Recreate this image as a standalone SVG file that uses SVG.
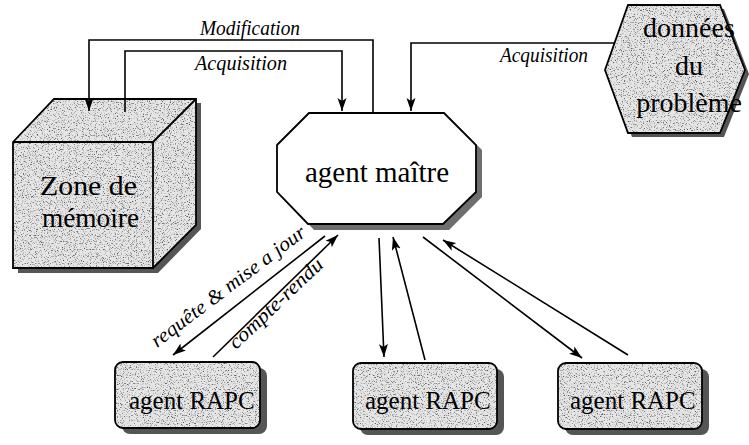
<svg xmlns="http://www.w3.org/2000/svg" width="749" height="445" viewBox="0 0 749 445">
<style>
.ln{fill:none;stroke:#000;stroke-width:1.6}
.ol{fill:none;stroke:#000;stroke-width:1.8;stroke-linejoin:miter}
.tex{fill:#e6e6e6}
.sh{fill:#555}
.lbl{font-style:italic;font-size:20px}
</style>
<defs>
<marker id="ah" markerUnits="userSpaceOnUse" markerWidth="14" markerHeight="10" refX="13" refY="5" orient="auto">
<path d="M0,0.5 L13,5 L0,9.5 L3,5 z" fill="#000"/>
</marker>
<filter id="grain" x="0" y="0" width="1" height="1" color-interpolation-filters="sRGB">
<feTurbulence type="fractalNoise" baseFrequency="0.85" numOctaves="2" seed="7" result="n"/>
<feColorMatrix in="n" type="matrix" values="0 0 0 0 0.35  0 0 0 0 0.35  0 0 0 0 0.35  -4 0 0 0 1.85" result="sp"/>
<feComposite in="sp" in2="SourceGraphic" operator="in" result="spc"/>
<feMerge><feMergeNode in="SourceGraphic"/><feMergeNode in="spc"/></feMerge>
</filter>
</defs>

<g font-family="Liberation Serif, Times New Roman, serif" fill="#000">
<g id="zone-memoire">
<polygon class="sh" points="18,146 59,103 201,103 201,229 158,273 18,273"/>
<polygon class="tex" filter="url(#grain)" points="13,142 54,99 196,99 196,225 153,268 13,268"/>
<polygon class="ol" points="13,142 54,99 196,99 196,225 153,268 13,268"/>
<polyline class="ol" points="13,142 153,142 196,99"/>
<line class="ol" x1="153" y1="142" x2="153" y2="268"/>
<text font-family="Liberation Serif, serif" font-size="28" x="40" y="195" textLength="97" lengthAdjust="spacingAndGlyphs">Zone de</text>
<text font-family="Liberation Serif, serif" font-size="28" x="42" y="227" textLength="97" lengthAdjust="spacingAndGlyphs">mémoire</text>
</g>

<g id="agent-maitre">
<polygon fill="#6e6e6e" points="283,150 315,118 450,118 482,150 482,197 449,230 314,230 283,197"/>
<polygon fill="#fff" points="277,145 309,113 444,113 476,145 476,192 443,224 308,224 277,192"/>
<polygon class="ol" points="277,145 309,113 444,113 476,145 476,192 443,224 308,224 277,192"/>
<text font-family="Liberation Serif, serif" font-size="29" x="377" y="182" text-anchor="middle">agent maître</text>
</g>

<g id="donnees-probleme">
<polygon class="sh" points="632,9 724,9 749,74 724,137 632,137 609,74"/>
<polygon class="tex" filter="url(#grain)" points="628,5 720,5 745,70 720,133 628,133 605,70"/>
<polygon class="ol" points="628,5 720,5 745,70 720,133 628,133 605,70"/>
<text font-family="Liberation Serif, serif" font-size="28" x="689" y="37" text-anchor="middle">données</text>
<text font-family="Liberation Serif, serif" font-size="28" x="689" y="75" text-anchor="middle">du</text>
<text font-family="Liberation Serif, serif" font-size="28" x="689" y="112" text-anchor="middle">problème</text>
</g>

<g id="rapc-1">
<rect class="sh" x="122" y="368" width="145" height="66" rx="8"/>
<rect class="tex" filter="url(#grain)" x="115" y="362" width="145" height="66" rx="8"/>
<rect class="ol" x="115" y="362" width="145" height="66" rx="8"/>
<text font-family="Liberation Serif, serif" font-size="25" x="129" y="409">agent RAPC</text>
</g>

<g id="rapc-2">
<rect class="sh" x="360" y="369" width="144" height="66" rx="8"/>
<rect class="tex" filter="url(#grain)" x="353" y="363" width="144" height="66" rx="8"/>
<rect class="ol" x="353" y="363" width="144" height="66" rx="8"/>
<text font-family="Liberation Serif, serif" font-size="25" x="365" y="409">agent RAPC</text>
</g>

<g id="rapc-3">
<rect class="sh" x="565" y="369" width="144" height="66" rx="8"/>
<rect class="tex" filter="url(#grain)" x="558" y="363" width="144" height="66" rx="8"/>
<rect class="ol" x="558" y="363" width="144" height="66" rx="8"/>
<text font-family="Liberation Serif, serif" font-size="25" x="570" y="409">agent RAPC</text>
</g>

<g id="connectors">
<path class="ln" d="M373,112 V40 H89 V111" marker-end="url(#ah)"/>
<path class="ln" d="M125,112 V51 H342 V111" marker-end="url(#ah)"/>
<path class="ln" d="M614,43 H411 V111" marker-end="url(#ah)"/>
<line class="ln" x1="325" y1="236" x2="173" y2="355" marker-end="url(#ah)"/>
<line class="ln" x1="213" y1="357" x2="338" y2="235" marker-end="url(#ah)"/>
<line class="ln" x1="379" y1="238" x2="384" y2="357" marker-end="url(#ah)"/>
<line class="ln" x1="425" y1="360" x2="393" y2="237" marker-end="url(#ah)"/>
<line class="ln" x1="423" y1="237" x2="582" y2="358" marker-end="url(#ah)"/>
<line class="ln" x1="628" y1="355" x2="443" y2="240" marker-end="url(#ah)"/>
<text class="lbl" font-family="Liberation Serif, serif" font-size="19" x="200" y="35" textLength="100" lengthAdjust="spacingAndGlyphs">Modification</text>
<text class="lbl" font-family="Liberation Serif, serif" x="195" y="70" textLength="92" lengthAdjust="spacingAndGlyphs">Acquisition</text>
<text class="lbl" font-family="Liberation Serif, serif" font-size="19" x="500" y="62" textLength="88" lengthAdjust="spacingAndGlyphs">Acquisition</text>
<text class="lbl" font-family="Liberation Serif, serif" x="157" y="348" transform="rotate(-37 157 348)" textLength="188" lengthAdjust="spacingAndGlyphs">requête &amp; mise a jour</text>
<text class="lbl" font-family="Liberation Serif, serif" x="236" y="350" transform="rotate(-43.5 236 350)" textLength="122" lengthAdjust="spacingAndGlyphs">compte-rendu</text>
</g>
</g>
</svg>
